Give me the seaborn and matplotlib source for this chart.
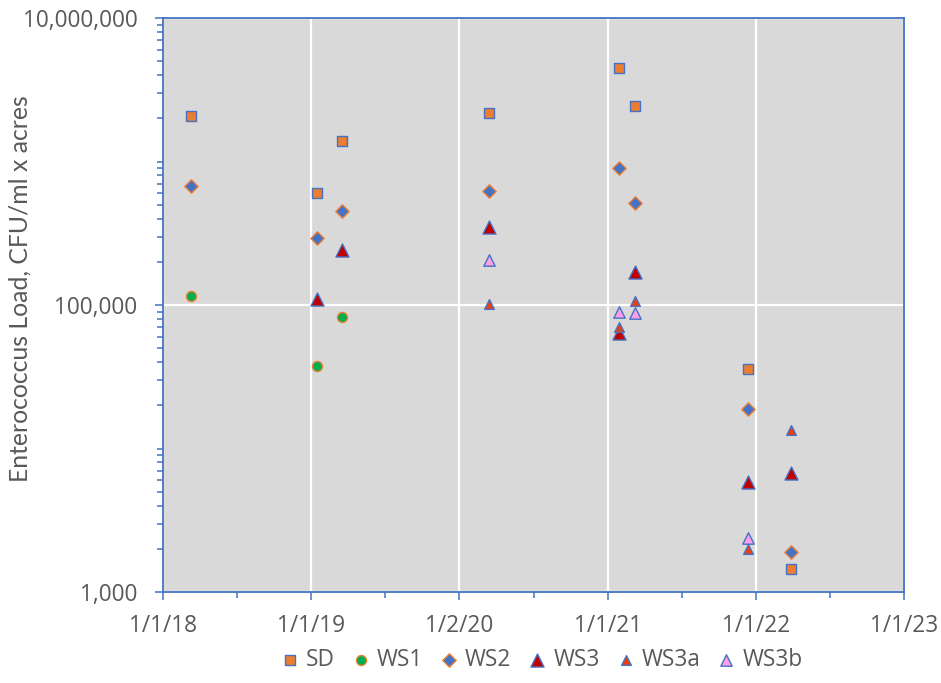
import matplotlib
matplotlib.use("Agg")
import matplotlib.pyplot as plt
import matplotlib.dates as mdates
from matplotlib.ticker import FixedLocator, FuncFormatter, LogLocator, NullFormatter
import numpy as np
import pandas as pd
import seaborn as sns

# ---------------- data ----------------
sd_dates = ['2018-03-12', '2019-01-15', '2019-03-19', '2020-03-15',
            '2021-01-28', '2021-03-10', '2021-12-14', '2022-03-28']
sd_vals = [2.07e6, 6.0e5, 1.39e6, 2.17e6, 4.48e6, 2.45e6, 3.58e4, 1.44e3]

ws1_dates = ['2018-03-12', '2019-01-15', '2019-03-19']
ws1_vals = [1.16e5, 3.78e4, 8.2e4]

ws2_dates = ['2018-03-12', '2019-01-15', '2019-03-19', '2020-03-15',
             '2021-01-28', '2021-03-10', '2021-12-14', '2022-03-28']
ws2_vals = [6.75e5, 2.92e5, 4.54e5, 6.23e5, 9.05e5, 5.11e5, 1.88e4, 1.89e3]

ws3_dates = ['2019-01-15', '2019-03-19', '2020-03-15', '2021-01-28',
             '2021-03-10', '2021-12-14', '2022-03-28']
ws3_vals = [1.1e5, 2.42e5, 3.51e5, 6.38e4, 1.71e5, 5.87e3, 6.78e3]

ws3a_dates = ['2020-03-15', '2021-01-28', '2021-03-10', '2021-12-14', '2022-03-28']
ws3a_vals = [1.01e5, 7.06e4, 1.07e5, 1.98e3, 1.35e4]

ws3b_dates = ['2020-03-15', '2021-01-28', '2021-03-10', '2021-12-14']
ws3b_vals = [2.06e5, 8.98e4, 8.75e4, 2.37e3]

series_names = ['SD', 'WS1', 'WS2', 'WS3', 'WS3a', 'WS3b']
x_tick_labels = ['1/1/18', '1/1/19', '1/2/20', '1/1/21', '1/1/22', '1/1/23']
y_tick_values = [1e3, 1e5, 1e7]
y_label = 'Enterococcus Load, CFU/ml x acres'

# ---------------- styling ----------------
BLUE = '#4472C4'
ORANGE = '#ED7D31'
styles = {
    'SD':   dict(marker='s', color=ORANGE,    edgecolor=BLUE,   ms=7.8),
    'WS1':  dict(marker='o', color='#00B050', edgecolor=ORANGE, ms=7.2),
    'WS2':  dict(marker='D', color=BLUE,      edgecolor=ORANGE, ms=6.8),
    'WS3':  dict(marker='^', color='#C00000', edgecolor=BLUE,   ms=9.4),
    'WS3a': dict(marker='^', color='#F03C0A', edgecolor=BLUE,   ms=7.0),
    'WS3b': dict(marker='^', color='#FF9EE8', edgecolor=BLUE,   ms=8.2),
}
data = {
    'SD': (sd_dates, sd_vals), 'WS1': (ws1_dates, ws1_vals),
    'WS2': (ws2_dates, ws2_vals), 'WS3': (ws3_dates, ws3_vals),
    'WS3a': (ws3a_dates, ws3a_vals), 'WS3b': (ws3b_dates, ws3b_vals),
}

sns.set_style("white")
plt.rcParams['font.family'] = ['Open Sans', 'DejaVu Sans']
TXT = '#595959'

fig = plt.figure(figsize=(9.41, 6.83), dpi=100)
ax = fig.add_axes([163 / 941, 1 - 592 / 683, 741 / 941, 574 / 683])
ax.set_facecolor('#D9D9D9')

for name in series_names:
    d, v = data[name]
    st = styles[name]
    df = pd.DataFrame({'date': pd.to_datetime(d), 'value': v})
    sns.scatterplot(data=df, x='date', y='value', ax=ax, marker=st['marker'],
                    color=st['color'], edgecolor=st['edgecolor'], linewidth=1.0,
                    s=st['ms'] ** 2, label=name, zorder=3)

ax.set_yscale('log')
ax.set_ylim(1e3, 1e7)

start = mdates.date2num(pd.Timestamp('2018-01-01'))
step = 365.25
ax.set_xlim(start, start + 5 * step)
ax.xaxis.set_major_locator(FixedLocator([start + k * step for k in range(6)]))
ax.xaxis.set_minor_locator(FixedLocator([start + (k + 0.5) * step for k in range(5)]))
ax.xaxis.set_major_formatter(FuncFormatter(lambda x, p: x_tick_labels[int(round((x - start) / step))]))

ax.yaxis.set_major_locator(FixedLocator(y_tick_values))
ax.yaxis.set_major_formatter(FuncFormatter(lambda y, p: f'{int(round(y)):,}'))
ax.yaxis.set_minor_locator(LogLocator(base=10, subs=np.arange(1, 10)))
ax.yaxis.set_minor_formatter(NullFormatter())

ax.grid(which='major', color='white', lw=1.6)
ax.set_axisbelow(True)

for sp in ax.spines.values():
    sp.set_color(BLUE)
    sp.set_linewidth(1.3)
    sp.set_visible(True)

ax.tick_params(axis='both', which='major', direction='out', length=6, width=1.1,
               color=BLUE, labelcolor=TXT, labelsize=16.3, left=True, bottom=True)
ax.tick_params(axis='both', which='minor', direction='out', length=4.2, width=1.1,
               color=BLUE, left=True, bottom=True)
ax.tick_params(axis='x', which='major', pad=9.5)
ax.tick_params(axis='y', which='major', pad=12.5)

ax.set_xlabel('')
ax.set_ylabel(y_label, fontsize=17.8, color=TXT, family=['Lato', 'DejaVu Sans'])
ax.yaxis.label.set_va('center')
ax.yaxis.set_label_coords((20 - 163) / 741, (592 - 289) / 574)

leg = ax.legend(loc='center', bbox_to_anchor=(543 / 941, 1 - 660 / 683),
                bbox_transform=fig.transFigure, ncol=6, frameon=False,
                fontsize=16.3, handlelength=0.6, handletextpad=0.4,
                columnspacing=0.85, borderaxespad=0, borderpad=0, markerscale=1.0)
for t in leg.get_texts():
    t.set_color(TXT)

fig.savefig('out.png', dpi=100)
